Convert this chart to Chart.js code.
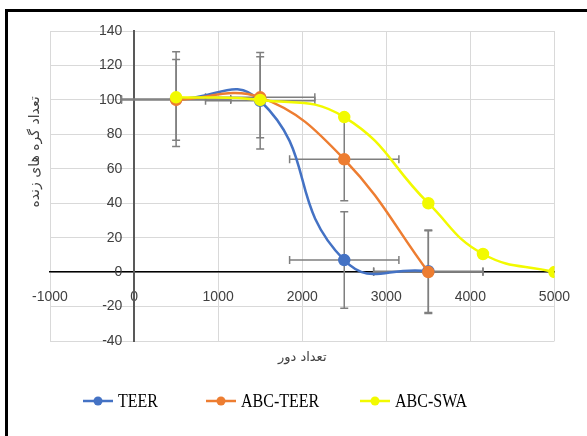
<!DOCTYPE html>
<html lang="fa">
<head>
<meta charset="UTF-8">
<title>TEER / ABC-TEER / ABC-SWA</title>
<script src="https://cdn.jsdelivr.net/npm/chart.js"></script>
<style>
  body { margin: 0; background: #fff; }
  .wrap { position: relative; width: 587px; height: 436px; overflow: hidden; background: #fff; }
  .frame {
    position: absolute; left: 5px; top: 9px; width: 800px; height: 600px;
    border-left: 3px solid #000; border-top: 3px solid #000;
  }
  #chart { position: absolute; left: 0; top: 0; }
</style>
</head>
<body>
<div class="wrap">
  <div class="frame"></div>
  <canvas id="chart" width="587" height="436"></canvas>
</div>

<script>
  const seriesNames = ['TEER', 'ABC-TEER', 'ABC-SWA'];
  const seriesColors = ['#4472C4', '#ED7D31', '#F2FA00'];
  const xTitle = 'تعداد دور';
  const yTitle = 'تعداد گره های زنده';

  const teerX = [500, 1500, 2500, 3500];
  const teerY = [100.5, 99.5, 7, 0.5];
  const abcTeerX = [500, 1500, 2500, 3500];
  const abcTeerY = [100, 101.5, 65.5, 0];
  const abcSwaX = [500, 1500, 2500, 3500, 4150, 5000];
  const abcSwaY = [101.5, 100, 90, 40, 10.5, 0];

  // error bars (+/-), only the first two series have them
  const teerErrX = [650, 650, 650, 650];
  const teerErrY = [27.5, 28, 28, 24];
  const abcTeerErrX = [650, 650, 650, 650];
  const abcTeerErrY = [23.5, 23.5, 24, 24];

  const xTicks = [-1000, 0, 1000, 2000, 3000, 4000, 5000];
  const yTicks = [-40, -20, 0, 20, 40, 60, 80, 100, 120, 140];

  const toPoints = (xs, ys) => xs.map((x, i) => ({ x: x, y: ys[i] }));

  const errSets = [
    { xs: teerX, ys: teerY, ex: teerErrX, ey: teerErrY },
    { xs: abcTeerX, ys: abcTeerY, ex: abcTeerErrX, ey: abcTeerErrY }
  ];

  const errorBars = {
    id: 'errorBars',
    beforeDatasetsDraw(chart) {
      const { ctx, scales: { x, y } } = chart;
      const cap = 4;
      ctx.save();
      ctx.strokeStyle = '#7f7f7f';
      ctx.lineWidth = 1.5;
      errSets.forEach(s => {
        s.xs.forEach((xv, i) => {
          const yv = s.ys[i];
          const px = x.getPixelForValue(xv);
          const py = y.getPixelForValue(yv);
          const x1 = x.getPixelForValue(xv - s.ex[i]);
          const x2 = x.getPixelForValue(xv + s.ex[i]);
          const y1 = y.getPixelForValue(yv + s.ey[i]);
          const y2 = y.getPixelForValue(yv - s.ey[i]);
          ctx.beginPath();
          ctx.moveTo(x1, py); ctx.lineTo(x2, py);
          ctx.moveTo(x1, py - cap); ctx.lineTo(x1, py + cap);
          ctx.moveTo(x2, py - cap); ctx.lineTo(x2, py + cap);
          ctx.moveTo(px, y1); ctx.lineTo(px, y2);
          ctx.moveTo(px - cap, y1); ctx.lineTo(px + cap, y1);
          ctx.moveTo(px - cap, y2); ctx.lineTo(px + cap, y2);
          ctx.stroke();
        });
      });
      ctx.restore();
    }
  };

  // axis titles and the legend (line + dot markers, like the original)
  const decorations = {
    id: 'decorations',
    afterDraw(chart) {
      const ctx = chart.ctx;
      const area = chart.chartArea;
      ctx.save();
      ctx.fillStyle = '#404040';
      ctx.textAlign = 'center';
      ctx.textBaseline = 'middle';
      ctx.direction = 'rtl';
      ctx.font = '13px "DejaVu Sans"';
      ctx.fillText(xTitle, (area.left + area.right) / 2, 358);
      ctx.save();
      ctx.translate(35, 152);
      ctx.rotate(-Math.PI / 2);
      ctx.font = '14px "DejaVu Sans"';
      ctx.fillText(yTitle, 0, 0);
      ctx.restore();

      ctx.direction = 'ltr';
      const legendX = [83, 206, 360];
      const ly = 401;
      seriesNames.forEach((name, i) => {
        const lx = legendX[i];
        ctx.strokeStyle = seriesColors[i];
        ctx.fillStyle = seriesColors[i];
        ctx.lineWidth = 2.5;
        ctx.beginPath();
        ctx.moveTo(lx, ly); ctx.lineTo(lx + 30, ly);
        ctx.stroke();
        ctx.beginPath();
        ctx.arc(lx + 15, ly, 4.5, 0, Math.PI * 2);
        ctx.fill();
        ctx.save();
        ctx.translate(lx + 35, ly);
        ctx.scale(1, 1.2);
        ctx.fillStyle = '#000';
        ctx.font = '16px "Liberation Serif"';
        ctx.textAlign = 'left';
        ctx.textBaseline = 'middle';
        ctx.fillText(name, 0, 1);
        ctx.restore();
      });
      ctx.restore();
    }
  };

  const makeSet = (i, xs, ys, order, tension) => ({
    label: seriesNames[i],
    data: toPoints(xs, ys),
    borderColor: seriesColors[i],
    backgroundColor: seriesColors[i],
    pointBackgroundColor: seriesColors[i],
    pointBorderColor: seriesColors[i],
    borderWidth: 2.5,
    pointRadius: 5,
    tension: tension,
    order: order
  });

  new Chart(document.getElementById('chart'), {
    type: 'line',
    data: {
      datasets: [
        makeSet(0, teerX, teerY, 2, 0.5),
        makeSet(1, abcTeerX, abcTeerY, 1, 0.4),
        makeSet(2, abcSwaX, abcSwaY, 0, 0.45)
      ]
    },
    options: {
      responsive: false,
      animation: false,
      events: [],
      layout: { padding: { left: 50, top: 31, right: 20, bottom: 95 } },
      plugins: { legend: { display: false }, tooltip: { enabled: false } },
      scales: {
        x: {
          type: 'linear',
          position: { y: 0 },
          min: xTicks[0],
          max: xTicks[xTicks.length - 1],
          afterBuildTicks: axis => { axis.ticks = xTicks.map(v => ({ value: v })); },
          grid: { color: '#d9d9d9', lineWidth: 1, drawTicks: false },
          border: { color: '#000', width: 1.5 },
          ticks: {
            color: '#404040', font: { family: 'Liberation Sans', size: 14 }, padding: 17, maxRotation: 0,
            callback: v => String(v)
          }
        },
        y: {
          type: 'linear',
          position: { x: 0 },
          min: yTicks[0],
          max: yTicks[yTicks.length - 1],
          afterBuildTicks: axis => { axis.ticks = yTicks.map(v => ({ value: v })); },
          grid: { color: '#d9d9d9', lineWidth: 1, drawTicks: false },
          border: { color: '#595959', width: 2 },
          ticks: {
            color: '#404040', font: { family: 'Liberation Sans', size: 14 },
            // positioned axes ignore padding, so the gap to the axis comes from trailing spaces
            callback: v => String(v) + '   '
          }
        }
      }
    },
    plugins: [errorBars, decorations]
  });
</script>
</body>
</html>
